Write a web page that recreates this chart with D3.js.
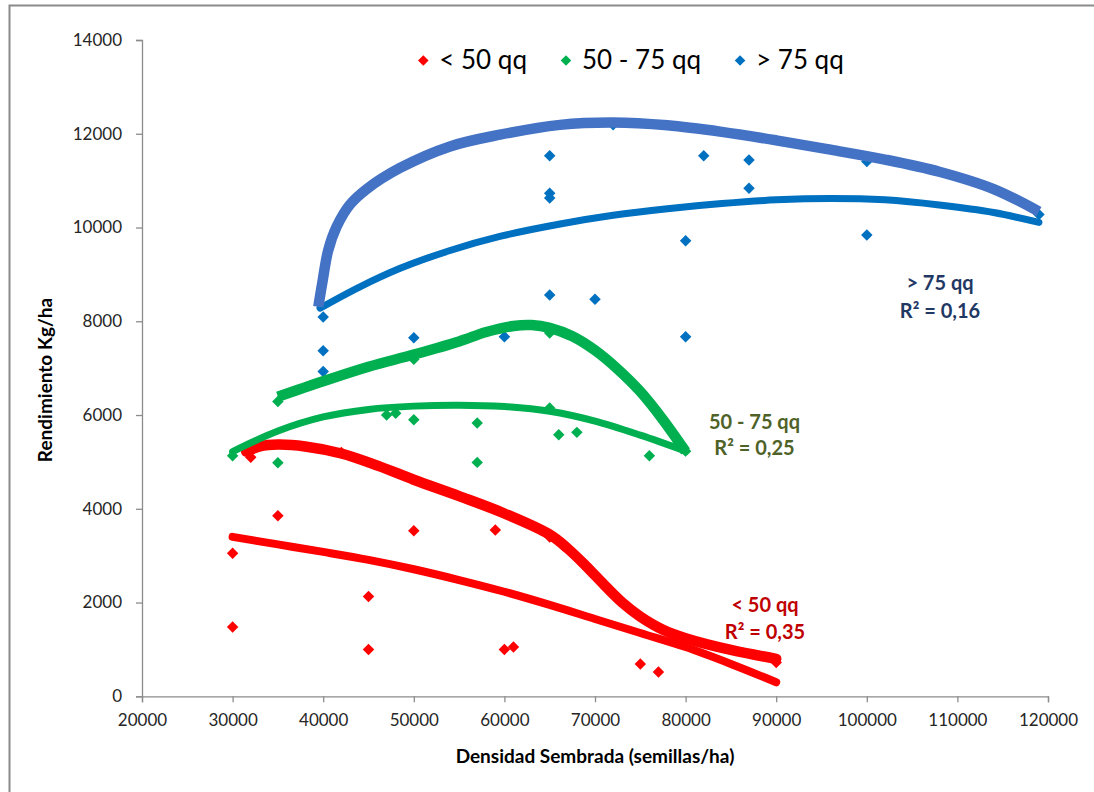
<!DOCTYPE html>
<html>
<head>
<meta charset="utf-8">
<script src="https://cdn.jsdelivr.net/npm/d3@7"></script>
<style>
  html, body { margin: 0; padding: 0; background: #fff; }
  svg { display: block; }
  text { font-family: Lato, "Liberation Sans", sans-serif; }
</style>
</head>
<body>
<svg id="chart" width="1094" height="792"></svg>
<script>
// ---------- DATA ----------
const seriesNames = ["< 50 qq", "50 - 75 qq", "> 75 qq"];
const xTicks = [20000, 30000, 40000, 50000, 60000, 70000, 80000, 90000, 100000, 110000, 120000];
const yTicks = [0, 2000, 4000, 6000, 8000, 10000, 12000, 14000];

const redX = [30000, 30000, 32000, 35000, 42000, 45000, 45000, 50000, 59000, 60000, 61000, 65000, 75000, 77000, 90000];
const redY = [1480, 3050, 5100, 3850, 5200, 2130, 1000, 3530, 3550, 1000, 1050, 3400, 690, 520, 720];

const greenX = [30000, 35000, 35000, 47000, 48000, 50000, 50000, 57000, 57000, 65000, 65000, 66000, 68000, 76000, 80000];
const greenY = [5130, 6290, 4980, 6000, 6040, 5900, 7190, 5830, 4990, 6150, 7750, 5580, 5630, 5130, 5230];

const blueX = [40000, 40000, 40000, 50000, 60000, 65000, 65000, 65000, 65000, 70000, 72000, 80000, 80000, 82000, 87000, 87000, 100000, 100000, 119000];
const blueY = [8090, 7370, 6930, 7650, 7670, 11530, 10730, 10630, 8560, 8470, 12190, 9720, 7670, 11530, 11440, 10840, 11410, 9840, 10280];

// trend curves
const redThinX = [30000, 35000, 40000, 45000, 50000, 55000, 60000, 65000, 70000, 75000, 80000, 85000, 90000];
const redThinY = [3400, 3240, 3080, 2910, 2710, 2480, 2230, 1950, 1650, 1350, 1050, 690, 300];
const redThickX = [31500, 33000, 35000, 38000, 42000, 46000, 50000, 55000, 60000, 65000, 67000, 69000, 71000, 73000, 75000, 77500, 80000, 85000, 90000];
const redThickY = [5220, 5330, 5370, 5330, 5180, 4920, 4620, 4270, 3900, 3450, 3150, 2780, 2380, 2000, 1700, 1420, 1240, 990, 800];

const greenThinX = [30000, 35000, 40000, 45000, 50000, 55000, 60000, 65000, 70000, 75000, 80000];
const greenThinY = [5220, 5660, 5960, 6120, 6190, 6210, 6180, 6080, 5870, 5570, 5230];
const greenThickX = [35000, 40000, 45000, 50000, 55000, 58000, 61000, 63000, 65000, 67500, 70000, 72500, 75000, 77500, 80000];
const greenThickY = [6390, 6720, 7030, 7290, 7570, 7770, 7900, 7920, 7860, 7680, 7380, 6980, 6500, 5900, 5220];

const blueThinX = [39650, 44000, 48500, 54000, 59500, 66000, 72000, 78000, 84000, 90000, 96000, 102000, 108000, 114000, 119000];
const blueThinY = [8280, 8730, 9130, 9510, 9810, 10070, 10260, 10400, 10510, 10590, 10620, 10590, 10480, 10320, 10110];
const blueThickX = [39460, 39950, 40560, 41490, 42960, 44800, 48480, 54000, 59510, 66140, 72000, 78000, 84000, 90000, 96000, 102000, 108000, 114000, 119000];
const blueThickY = [8310, 8880, 9520, 10020, 10490, 10820, 11270, 11730, 11980, 12190, 12240, 12180, 12040, 11860, 11660, 11450, 11190, 10820, 10340];

const annoLine1 = ["< 50 qq", "50 - 75 qq", "> 75 qq"];
const annoLine2 = ["R² = 0,35", "R² = 0,25", "R² = 0,16"];

const xTitle = "Densidad Sembrada (semillas/ha)";
const yTitle = "Rendimiento Kg/ha";

// ---------- STYLE / LAYOUT ----------
const pointColors = ["#FF0000", "#00B050", "#0070C0"];
const thickColors = ["#FF0000", "#00B050", "#4472C4"];
const thinColors = ["#FF0000", "#00B050", "#0070C0"];
const annoColors = ["#C00000", "#4F6228", "#1F3864"];
const annoPos = [[765, 611.5, 638.5], [754.5, 428.5, 455], [940, 289.5, 317.5]];

const svg = d3.select("#chart");
const x = d3.scaleLinear().domain([20000, 120000]).range([142, 1048]);
const y = d3.scaleLinear().domain([0, 14000]).range([696.3, 40]);

// outer border
svg.append("rect").attr("x", 9.5).attr("y", 5.5).attr("width", 1200).attr("height", 900)
  .attr("fill", "none").attr("stroke", "#8a8a8a").attr("stroke-width", 2);

// axes
const axisColor = "#8c8c8c";
const gx = svg.append("g").attr("transform", `translate(0,${y(0)})`)
  .call(d3.axisBottom(x).tickValues(xTicks).tickFormat(d3.format("d")).tickSize(6).tickPadding(12));
const gy = svg.append("g").attr("transform", `translate(${x(20000)},0)`)
  .call(d3.axisLeft(y).tickValues(yTicks).tickFormat(d3.format("d")).tickSize(6).tickPadding(14));
[gx, gy].forEach(g => {
  g.select(".domain").attr("stroke", axisColor).attr("stroke-width", 1.3);
  g.selectAll(".tick line").attr("stroke", axisColor).attr("stroke-width", 1.3);
  g.selectAll(".tick text").attr("fill", "#262626").style("font-size", "17px").style("font-family", "Lato, sans-serif");
});

// axis titles
svg.append("text").attr("x", 595).attr("y", 763).attr("text-anchor", "middle")
  .style("font-size", "19px").style("font-weight", "bold").attr("fill", "#000").text(xTitle);
svg.append("text").attr("transform", "translate(52,380) rotate(-90)").attr("text-anchor", "middle")
  .style("font-size", "19px").style("font-weight", "bold").attr("fill", "#000").text(yTitle);

// points
const diamond = d3.symbol().type(d3.symbolSquare).size(66);
const pointSets = [[redX, redY], [greenX, greenY], [blueX, blueY]];
pointSets.forEach((ps, i) => {
  const pts = ps[0].map((v, k) => [v, ps[1][k]]);
  svg.append("g").selectAll("path").data(pts).join("path")
    .attr("d", diamond)
    .attr("transform", d => `translate(${x(d[0])},${y(d[1])}) rotate(45)`)
    .attr("fill", pointColors[i]);
});

// curves
const line = d3.line().x(d => x(d[0])).y(d => y(d[1])).curve(d3.curveCatmullRom.alpha(0.5));
const thin = [[redThinX, redThinY], [greenThinX, greenThinY], [blueThinX, blueThinY]];
const thick = [[redThickX, redThickY], [greenThickX, greenThickY], [blueThickX, blueThickY]];
const thinW = [8, 7, 7];
[0, 1, 2].forEach(i => {
  const tp = thin[i][0].map((v, k) => [v, thin[i][1][k]]);
  svg.append("path").attr("d", line(tp)).attr("fill", "none")
    .attr("stroke", thinColors[i]).attr("stroke-width", thinW[i])
    .attr("stroke-linecap", "round").attr("stroke-linejoin", "round");
  const kp = thick[i][0].map((v, k) => [v, thick[i][1][k]]);
  svg.append("path").attr("d", line(kp)).attr("fill", "none")
    .attr("stroke", thickColors[i]).attr("stroke-width", 10.5)
    .attr("stroke-linecap", i === 0 ? "round" : "butt").attr("stroke-linejoin", "round");
});

// annotations
[0, 1, 2].forEach(i => {
  const p = annoPos[i];
  svg.append("text").attr("x", p[0]).attr("y", p[1]).attr("text-anchor", "middle")
    .style("font-size", "20px").style("font-weight", "bold").attr("fill", annoColors[i]).text(annoLine1[i]);
  svg.append("text").attr("x", p[0]).attr("y", p[2]).attr("text-anchor", "middle")
    .style("font-size", "20px").style("font-weight", "bold").attr("fill", annoColors[i]).text(annoLine2[i]);
});

// legend
const legend = svg.append("g");
let lx = 423.3;
seriesNames.forEach((name, i) => {
  legend.append("path").attr("d", d3.symbol().type(d3.symbolSquare).size(56))
    .attr("transform", `translate(${lx},60.5) rotate(45)`).attr("fill", pointColors[i]);
  const t = legend.append("text").attr("x", lx + 16).attr("y", 69.3)
    .style("font-size", "26px").attr("fill", "#000").text(name);
  lx = lx + 16 + t.node().getComputedTextLength() + 39;
});
</script>
</body>
</html>
